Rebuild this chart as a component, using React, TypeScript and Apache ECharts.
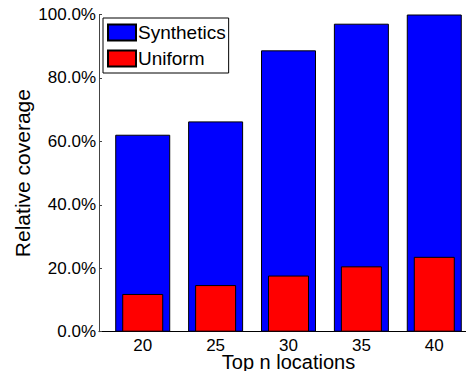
import React, { useEffect, useRef } from "react";
import * as echarts from "echarts";

const categories = [20, 25, 30, 35, 40];
const synthetics = [62.1, 66.3, 88.7, 97.1, 100.0];
const uniform = [11.9, 14.7, 17.7, 20.6, 23.6];
const yTicks = [0, 20, 40, 60, 80, 100];

const FONT = "'Liberation Sans', Arial, Helvetica, sans-serif";

export default function App() {
  const ref = useRef<HTMLDivElement>(null);
  useEffect(() => {
    if (!ref.current) return;
    const chart = echarts.init(ref.current, null, { renderer: "svg" });
    const xBase = {
      type: "value",
      min: 17,
      max: 43,
      splitLine: { show: false },
      axisTick: { show: false },
    };
    chart.setOption({
      animation: false,
      backgroundColor: "#fff",
      textStyle: { fontFamily: FONT },
      grid: {
        left: 99,
        top: 14.5,
        bottom: 39.3,
        right: -12,
        containLabel: false,
        outerBoundsMode: "none",
      },
      legend: {
        orient: "vertical",
        left: 103,
        top: 18,
        itemWidth: 28,
        itemHeight: 16,
        itemGap: 7,
        padding: [5, 3, 5, 4],
        borderColor: "#000",
        borderWidth: 1,
        backgroundColor: "#fff",
        icon: "rect",
        textStyle: { fontSize: 19, color: "#000", fontFamily: FONT, lineHeight: 16, padding: [0, 0, 0, -3] },
        data: ["Synthetics", "Uniform"],
      },
      xAxis: [
        {
          ...xBase,
          name: "Top n locations",
          nameLocation: "middle",
          nameGap: 20,
          nameMoveOverlap: false,
          nameTextStyle: { fontSize: 20, color: "#000", fontFamily: FONT },
          axisLine: { show: true, lineStyle: { color: "#000", width: 1 } },
          axisLabel: {
            customValues: categories,
            fontSize: 17,
            color: "#000",
            margin: 5,
            fontFamily: FONT,
          },
        },
        {
          ...xBase,
          show: false,
        },
      ],
      yAxis: {
        type: "value",
        min: yTicks[0],
        max: yTicks[yTicks.length - 1],
        interval: 20,
        name: "Relative coverage",
        nameLocation: "middle",
        nameGap: 66,
        nameMoveOverlap: false,
        nameTextStyle: { fontSize: 21, color: "#000", fontFamily: FONT },
        splitLine: { show: false },
        axisLine: { show: true, lineStyle: { color: "#444", width: 1 } },
        axisTick: { show: true, inside: true, length: 3, lineStyle: { color: "#444" } },
        axisLabel: {
          formatter: (v: number) => v.toFixed(1) + "%",
          fontSize: 17,
          color: "#000",
          margin: 3,
          fontFamily: FONT,
        },
      },
      series: [
        {
          name: "Synthetics",
          type: "bar",
          xAxisIndex: 0,
          barWidth: 55,
          itemStyle: { color: "#0000ff", borderColor: "#000", borderWidth: 1 },
          data: categories.map((c, i) => [c, synthetics[i]]),
        },
        {
          name: "Uniform",
          type: "bar",
          xAxisIndex: 1,
          barWidth: 41,
          itemStyle: { color: "#ff0000", borderColor: "#000", borderWidth: 1 },
          data: categories.map((c, i) => [c, uniform[i]]),
        },
      ],
    });
    return () => chart.dispose();
  }, []);
  return (
    <div
      ref={ref}
      style={{ position: "fixed", left: 0, top: 0, width: 466, height: 371 }}
    />
  );
}
